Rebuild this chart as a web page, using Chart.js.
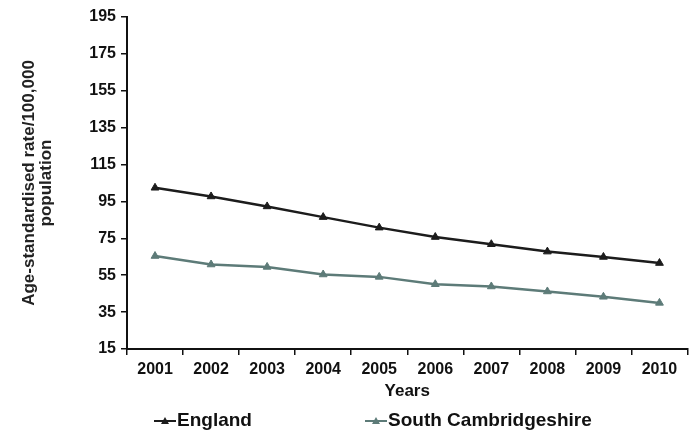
<!DOCTYPE html>
<html><head><meta charset="utf-8">
<script src="https://cdn.jsdelivr.net/npm/chart.js@4"></script>
<style>html,body{margin:0;padding:0;background:#fff}#wrap{width:693px;height:439px}</style>
</head><body><div id="wrap"><canvas id="c" width="693" height="439"></canvas></div>
<script>
const years = ['2001','2002','2003','2004','2005','2006','2007','2008','2009','2010'];
const england = [102.4, 97.7, 92.3, 86.5, 80.8, 75.7, 71.8, 67.8, 64.9, 61.6];
const southCambs = [65.4, 60.8, 59.5, 55.4, 54.1, 50.1, 48.9, 46.2, 43.3, 40.0];
const seriesNames = ['England', 'South Cambridgeshire'];
const yMin = 15, yMax = 195, yStep = 20;
const yTitle = ['Age-standardised rate/100,000', 'population'];
const xTitle = 'Years';

const FONT = 'Liberation Sans, Arial, sans-serif';
const colors = ['#1c1c1c', '#5d7b78'];

const legendPlugin = {
  id: 'customLegend',
  afterDraw(chart) {
    const ctx = chart.ctx;
    const xs = [154, 365];
    const y = 421;
    ctx.save();
    chart.data.datasets.forEach((ds, i) => {
      const x = xs[i];
      ctx.strokeStyle = ds.borderColor;
      ctx.lineWidth = 2;
      ctx.beginPath(); ctx.moveTo(x, y); ctx.lineTo(x + 22, y); ctx.stroke();
      ctx.fillStyle = ds.borderColor;
      ctx.beginPath();
      ctx.moveTo(x + 11, y - 4); ctx.lineTo(x + 15, y + 3); ctx.lineTo(x + 7, y + 3); ctx.closePath(); ctx.fill();
      ctx.fillStyle = '#111';
      ctx.font = 'bold 19px ' + FONT;
      ctx.textBaseline = 'middle';
      ctx.textAlign = 'left';
      ctx.fillText(ds.label, x + 23, y);
    });
    ctx.restore();
  }
};

new Chart(document.getElementById('c'), {
  type: 'line',
  data: {
    labels: years,
    datasets: [
      { label: seriesNames[0], data: england, borderColor: colors[0], backgroundColor: colors[0],
        borderWidth: 2.5, pointStyle: 'triangle', pointRadius: 4.5, pointBorderWidth: 1, tension: 0 },
      { label: seriesNames[1], data: southCambs, borderColor: colors[1], backgroundColor: colors[1],
        borderWidth: 2.5, pointStyle: 'triangle', pointRadius: 4.5, pointBorderWidth: 1, tension: 0 }
    ]
  },
  options: {
    responsive: false,
    animation: false,
    devicePixelRatio: 1,
    layout: { padding: { left: 12, top: 17, right: 0, bottom: 0 } },
    plugins: { legend: { display: false }, tooltip: { enabled: false } },
    scales: {
      x: {
        offset: true,
        grid: { offset: true, drawOnChartArea: false, drawTicks: true, tickLength: 6, color: '#111', lineWidth: 1.5 },
        border: { display: true, color: '#111', width: 2 },
        ticks: { color: '#111', font: { family: FONT, size: 16, weight: 'bold' }, padding: 5, maxRotation: 0 },
        title: { display: true, text: xTitle, color: '#111', font: { family: FONT, size: 17, weight: 'bold' }, padding: { top: 0, bottom: 37 } },
        afterFit(s) { s.height = 90; }
      },
      y: {
        min: yMin, max: yMax,
        grid: { drawOnChartArea: false, drawTicks: true, tickLength: 6, color: '#111', lineWidth: 1.5 },
        border: { display: true, color: '#111', width: 2 },
        ticks: { stepSize: yStep, color: '#111', font: { family: FONT, size: 16, weight: 'bold' }, padding: 5 },
        title: { display: true, text: yTitle, color: '#222', font: { family: FONT, size: 17, weight: 'bold', lineHeight: 1.05 }, padding: { top: 8, bottom: 0 } },
        afterFit(s) { s.width = 127 - 12; }
      }
    }
  },
  plugins: [legendPlugin]
});
</script></body></html>
